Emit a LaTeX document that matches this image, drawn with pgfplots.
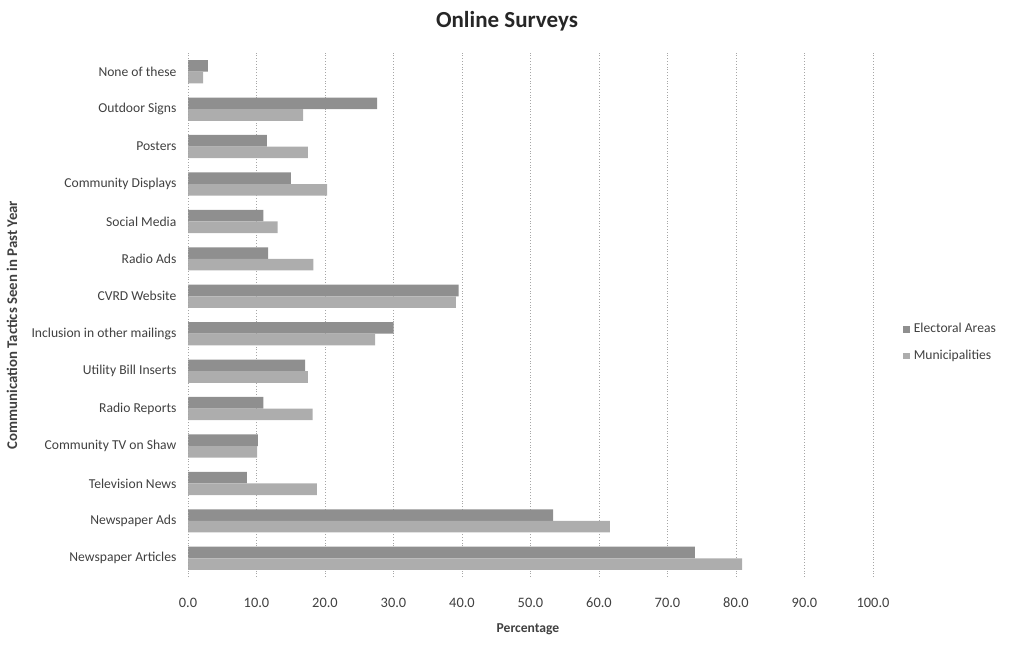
\documentclass[border=0pt]{standalone}
\usepackage{pgfplots}
\pgfplotsset{compat=1.18}
\usepackage{fontspec}
\setmainfont{Carlito}

% Share of respondents who saw each communication tactic (percent)
\pgfplotstableread{
idx value
0  74.0
1  53.3
2  8.6
3  10.2
4  11.0
5  17.1
6  30.0
7  39.5
8  11.7
9  11.0
10 15.0
11 11.5
12 27.6
13 2.9
}\electoral
\pgfplotstableread{
idx value
0  80.9
1  61.6
2  18.8
3  10.1
4  18.2
5  17.5
6  27.3
7  39.1
8  18.3
9  13.1
10 20.3
11 17.5
12 16.8
13 2.2
}\municipal

\definecolor{barA}{gray}{0.56}
\definecolor{barB}{gray}{0.68}
\definecolor{txt}{gray}{0.25}

\begin{document}
\begin{tikzpicture}
\path[use as bounding box] (0pt,0pt) rectangle (513pt,322.5pt);
\begin{axis}[
  at={(94pt,34pt)}, anchor=south west,
  scale only axis, width=342.5pt, height=262pt,
  xbar, bar width=5.8pt,
  xmin=0, xmax=100,
  ymin=-0.5, ymax=13.5,
  xtick={0,10,...,100},
  xticklabel style={yshift=-7pt, font=\fontsize{7.2}{8}\selectfont, /pgf/number format/.cd, fixed, fixed zerofill, precision=1, assume math mode=true},
  xtick style={draw=none}, ytick style={draw=none},
  ytick={0,...,13},
  yticklabels={Newspaper Articles, Newspaper Ads, Television News, Community TV on Shaw, Radio Reports, Utility Bill Inserts, Inclusion in other mailings, CVRD Website, Radio Ads, Social Media, Community Displays, Posters, Outdoor Signs, None of these},
  ticklabel style={text=txt},
  yticklabel style={font=\fontsize{6.8}{7.5}\selectfont, xshift=2pt},
  axis line style={draw=none},
  xmajorgrids, grid style={densely dotted, gray!70, line width=0.4pt},
  legend style={draw=none, fill=none, at={(1.035,0.447)}, anchor=west,
    font=\fontsize{6.8}{7.5}\selectfont, text=txt, row sep=3pt,
    legend cell align=left},
  legend image code/.code={\fill[#1] (0pt,-1.6pt) rectangle (3.2pt,1.6pt);},
]
\addplot[fill=barA, draw=none, bar shift=2.9pt] table[x=value, y=idx] {\electoral};
\addplot[fill=barB, draw=none, bar shift=-2.9pt] table[x=value, y=idx] {\municipal};
\legend{Electoral Areas, Municipalities}
\end{axis}
\draw[densely dotted, gray!70, line width=0.4pt] (94pt,34pt) -- (94pt,296pt);
\node[font=\fontsize{11.5}{13}\bfseries, text=black!85] at (253.5pt,312pt) {Online Surveys};
\node[font=\fontsize{6.8}{7.5}\bfseries, text=txt] at (264pt,8pt) {Percentage};
\node[font=\fontsize{7.4}{8}\bfseries, text=txt, rotate=90] at (6pt,160pt) {Communication Tactics Seen in Past Year};
\end{tikzpicture}
\end{document}
